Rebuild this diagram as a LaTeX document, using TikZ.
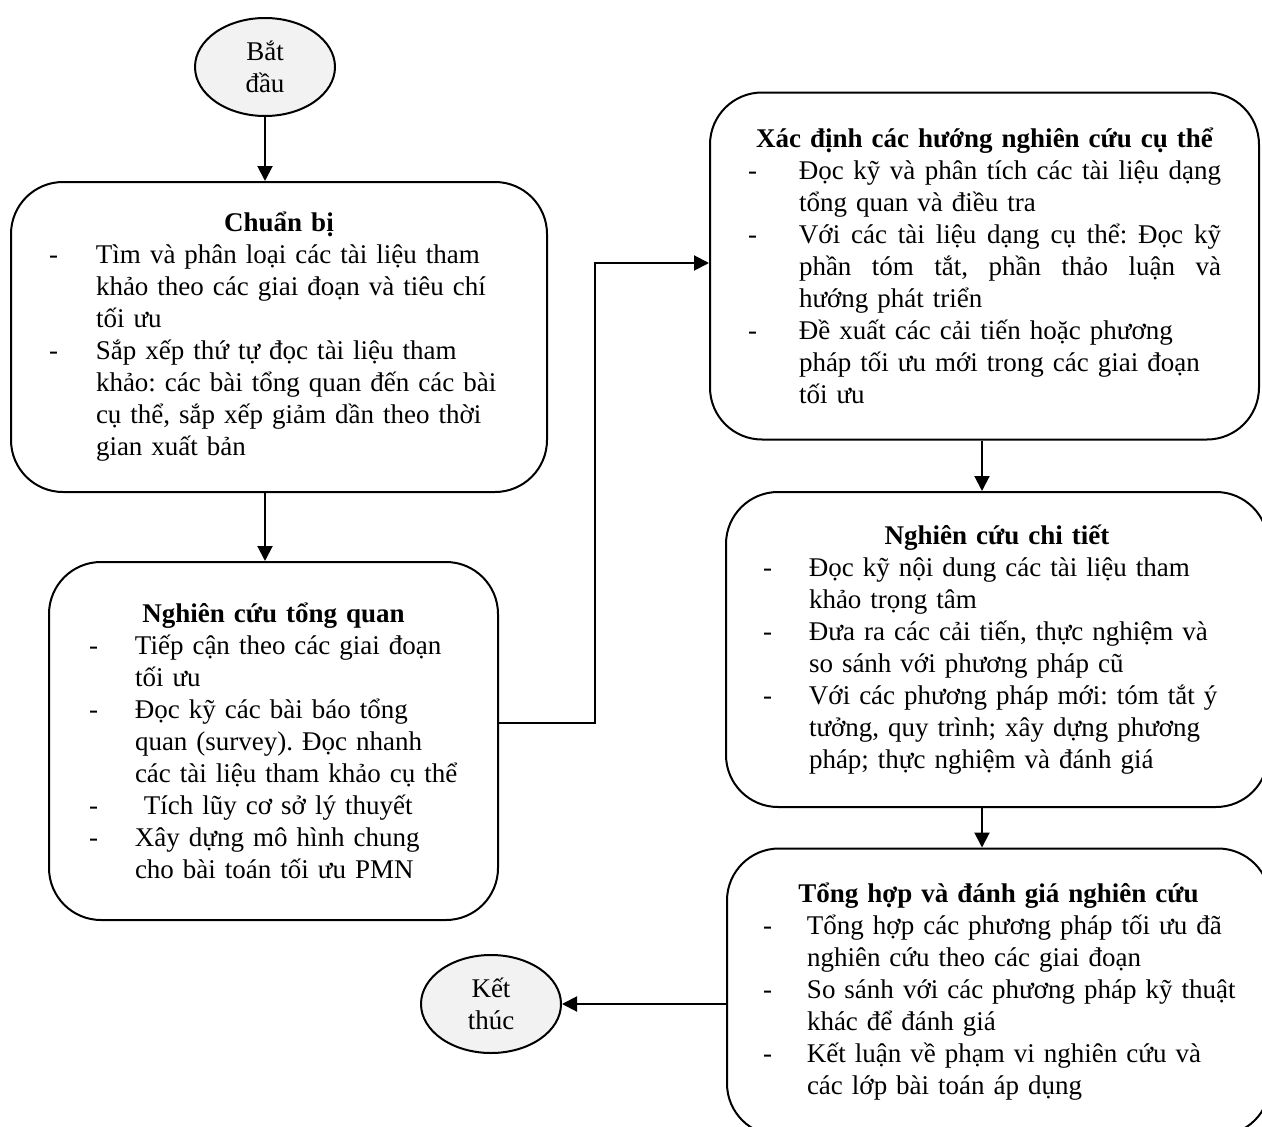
\documentclass[tikz,border=0pt]{standalone}
\usepackage{fontspec}
\setmainfont{Liberation Serif}
\usetikzlibrary{arrows.meta,shapes.geometric,calc}
\definecolor{termfill}{HTML}{F2F2F2}
\frenchspacing
\newcommand{\hdl}[2]{\makebox[#1][c]{\bfseries #2}}
\newcommand{\dsh}[2]{\makebox[#1][l]{-}\mbox{#2}}
\newcommand{\cnt}[2]{\hspace*{#1}\mbox{#2}}
\newcommand{\dshj}[3]{\makebox[#1][l]{-}\makebox[#2][l]{#3}}
\newcommand{\cntj}[3]{\hspace*{#1}\makebox[#2][l]{#3}}
\begin{document}
\begin{tikzpicture}[x=1pt,y=-1pt,
  box/.style={draw, line width=2pt, rounded corners=52pt, align=left, inner sep=0pt,
    font=\fontsize{27}{32}\selectfont},
  term/.style={draw, ellipse, line width=2pt, fill=termfill, inner sep=0pt,
    minimum width=140pt, minimum height=98pt, align=center,
    font=\fontsize{27}{32}\selectfont},
  arr/.style={line width=2pt, -{Triangle[length=15pt,width=15pt]}}]
\useasboundingbox (0,0) rectangle (1262,1127);
\clip (0,0) rectangle (1262,1127);

\node[term] (start) at (265,67) {Bắt\\đầu};

\node[box, minimum width=536pt, minimum height=310pt, text width=460pt] (b1) at (279,337) {%
\hdl{460pt}{Chuẩn bị}\\
\dsh{47pt}{Tìm và phân loại các tài liệu tham}\\
\cnt{47pt}{khảo theo các giai đoạn và tiêu chí}\\
\cnt{47pt}{tối ưu}\\
\dsh{47pt}{Sắp xếp thứ tự đọc tài liệu tham}\\
\cnt{47pt}{khảo: các bài tổng quan đến các bài}\\
\cnt{47pt}{cụ thể, sắp xếp giảm dần theo thời}\\
\cnt{47pt}{gian xuất bản}};

\node[box, minimum width=449pt, minimum height=358pt, text width=369pt] (b2) at (273.5,741) {%
\hdl{369pt}{Nghiên cứu tổng quan}\\
\dsh{46pt}{Tiếp cận theo các giai đoạn}\\
\cnt{46pt}{tối ưu}\\
\dsh{46pt}{Đọc kỹ các bài báo tổng}\\
\cnt{46pt}{quan (survey). Đọc nhanh}\\
\cnt{46pt}{các tài liệu tham khảo cụ thể}\\
\dsh{46pt}{\ Tích lũy cơ sở lý thuyết}\\
\dsh{46pt}{Xây dựng mô hình chung}\\
\cnt{46pt}{cho bài toán tối ưu PMN}};

\node[box, minimum width=549pt, minimum height=347pt, text width=473pt] (b3) at (984.5,266) {%
\hdl{473pt}{Xác định các hướng nghiên cứu cụ thể}\\
\dshj{51pt}{422pt}{Đọc\hfill kỹ\hfill và\hfill phân\hfill tích\hfill các\hfill tài\hfill liệu\hfill dạng}\\
\cnt{51pt}{tổng quan và điều tra}\\
\dshj{51pt}{422pt}{Với\hfill các\hfill tài\hfill liệu\hfill dạng\hfill cụ\hfill thể:\hfill Đọc\hfill kỹ}\\
\cntj{51pt}{422pt}{phần\hfill tóm\hfill tắt,\hfill phần\hfill thảo\hfill luận\hfill và}\\
\cnt{51pt}{hướng phát triển}\\
\dsh{51pt}{Đề xuất các cải tiến hoặc phương}\\
\cnt{51pt}{pháp tối ưu mới trong các giai đoạn}\\
\cnt{51pt}{tối ưu}};

\node[box, minimum width=542pt, minimum height=315pt, text width=468pt] (b4) at (997,649.5) {%
\hdl{468pt}{Nghiên cứu chi tiết}\\
\dsh{46pt}{Đọc kỹ nội dung các tài liệu tham}\\
\cnt{46pt}{khảo trọng tâm}\\
\dsh{46pt}{Đưa ra các cải tiến, thực nghiệm và}\\
\cnt{46pt}{so sánh với phương pháp cũ}\\
\dsh{46pt}{Với các phương pháp mới: tóm tắt ý}\\
\cnt{46pt}{tưởng, quy trình; xây dựng phương}\\
\cnt{46pt}{pháp; thực nghiệm và đánh giá}};

\node[box, minimum width=543pt, minimum height=287pt, text width=471pt] (b5) at (998.5,992) {%
\hdl{471pt}{Tổng hợp và đánh giá nghiên cứu}\\
\dsh{44pt}{Tổng hợp các phương pháp tối ưu đã}\\
\cnt{44pt}{nghiên cứu theo các giai đoạn}\\
\dsh{44pt}{So sánh với các phương pháp kỹ thuật}\\
\cnt{44pt}{khác để đánh giá}\\
\dsh{44pt}{Kết luận về phạm vi nghiên cứu và}\\
\cnt{44pt}{các lớp bài toán áp dụng}};

\node[term] (end) at (491,1004) {Kết\\thúc};

\coordinate (colx) at (982,0);
\coordinate (bend) at (595,263);

\draw[arr] (start.south) -- (start.south |- b1.north);
\draw[arr] (start.south |- b1.south) -- (start.south |- b2.north);
\draw[arr] ([yshift=18pt]b2.east) -| (bend) -- (bend -| b3.west);
\draw[arr] (colx |- b3.south) -- (colx |- b4.north);
\draw[arr] (colx |- b4.south) -- (colx |- b5.north);
\draw[arr] (b5.west |- end.east) -- (end.east);
\end{tikzpicture}
\end{document}
